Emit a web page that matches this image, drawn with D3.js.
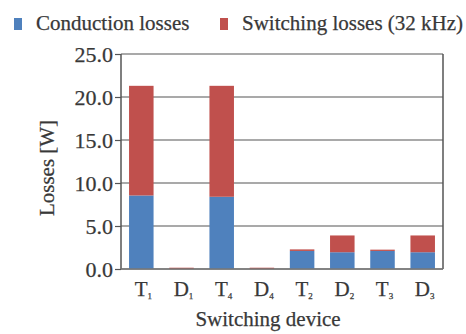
<!DOCTYPE html>
<html>
<head>
<meta charset="utf-8">
<script src="https://cdn.jsdelivr.net/npm/d3@7"></script>
<style>
  body { margin: 0; background: #fff; }
  svg text { font-family: "Liberation Serif", "Times New Roman", "DejaVu Serif", serif; fill: #383838; stroke: #383838; stroke-width: 0.25px; }
</style>
</head>
<body>
<div id="chart"></div>
<script>
// 器件名称 (主字母 + 下标)
var devices = ["T1", "D1", "T4", "D4", "T2", "D2", "T3", "D3"];
var deviceMain = ["T", "D", "T", "D", "T", "D", "T", "D"];
var deviceSub = ["1", "1", "4", "4", "2", "2", "3", "3"];
// 损耗数据 [W]
var conduction = [8.55, 0.0, 8.4, 0.0, 2.1, 1.95, 2.1, 1.95];
var switching = [12.75, 0.15, 12.9, 0.15, 0.18, 1.95, 0.15, 1.95];
var seriesNames = ["Conduction losses", "Switching losses (32 kHz)"];
var seriesColors = ["#4f81bd", "#c0504d"];
var yTicks = [0, 5, 10, 15, 20, 25];

var W = 466, H = 334;
var m = { left: 121, right: 23, top: 54, bottom: 65 };
var iw = W - m.left - m.right, ih = H - m.top - m.bottom;
var FS = 21;

var svg = d3.select("#chart").append("svg").attr("width", W).attr("height", H);

var x = d3.scaleBand().domain(devices).range([m.left, m.left + iw]).paddingInner(0.39).paddingOuter(0.2);
var y = d3.scaleLinear().domain([0, 25]).range([m.top + ih, m.top]);

// 网格线
svg.append("g").selectAll("line").data(yTicks).enter().append("line")
  .attr("x1", m.left).attr("x2", m.left + iw)
  .attr("y1", function(d){ return y(d); }).attr("y2", function(d){ return y(d); })
  .attr("stroke", "#555").attr("stroke-width", 1.2);

// 堆叠数据
var table = devices.map(function(d, i){ return { dev: d, c: conduction[i], s: switching[i] }; });
var stack = d3.stack().keys(["c", "s"])(table);

svg.append("g").selectAll("g").data(stack).enter().append("g")
  .attr("fill", function(d, i){ return seriesColors[i]; })
  .selectAll("rect").data(function(d){ return d; }).enter().append("rect")
  .attr("x", function(d){ return x(d.data.dev); })
  .attr("width", x.bandwidth())
  .attr("y", function(d){ return y(d[1]); })
  .attr("height", function(d){ return y(d[0]) - y(d[1]); });

// 边框
svg.append("line").attr("x1", m.left).attr("x2", m.left).attr("y1", m.top).attr("y2", m.top + ih)
  .attr("stroke", "#555").attr("stroke-width", 1.5);
svg.append("line").attr("x1", m.left + iw).attr("x2", m.left + iw).attr("y1", m.top).attr("y2", m.top + ih)
  .attr("stroke", "#555").attr("stroke-width", 1.5);
svg.append("line").attr("x1", m.left).attr("x2", m.left + iw).attr("y1", m.top + ih).attr("y2", m.top + ih)
  .attr("stroke", "#777").attr("stroke-width", 1.5);

// y轴刻度
var yAxis = svg.append("g").attr("transform", "translate(" + m.left + ",0)")
  .call(d3.axisLeft(y).tickValues(yTicks).tickFormat(d3.format(".1f")).tickSize(6).tickPadding(2));
yAxis.attr("font-family", null).attr("font-size", null);
yAxis.select(".domain").remove();
yAxis.selectAll(".tick line").attr("stroke", "#555").attr("stroke-width", 1.2);
yAxis.selectAll(".tick text").attr("font-size", 22).attr("fill", null).attr("dy", "0.34em");

// x轴标签 (带下标)
var xl = svg.append("g").selectAll("text").data(devices).enter().append("text")
  .attr("x", function(d){ return x(d) + x.bandwidth() / 2 + 2; })
  .attr("y", 296).attr("text-anchor", "middle").attr("font-size", FS);
xl.append("tspan").text(function(d, i){ return deviceMain[i]; });
xl.append("tspan").attr("font-size", 9).attr("dy", 3).text(function(d, i){ return deviceSub[i]; });

// 轴标题
svg.append("text").attr("x", 268).attr("y", 326).attr("text-anchor", "middle")
  .attr("font-size", FS).text("Switching device");
svg.append("text").attr("transform", "translate(54,168) rotate(-90)").attr("text-anchor", "middle")
  .attr("font-size", FS).text("Losses [W]");

// 图例
var legX = [14, 220];
var leg = svg.append("g").selectAll("g").data(seriesNames).enter().append("g")
  .attr("transform", function(d, i){ return "translate(" + legX[i] + ",16)"; });
leg.append("rect").attr("width", 8).attr("height", 12).attr("y", 2)
  .attr("fill", function(d, i){ return seriesColors[i]; });
leg.append("text").attr("x", 22).attr("y", 14).attr("font-size", FS).text(function(d){ return d; });
</script>
</body>
</html>
